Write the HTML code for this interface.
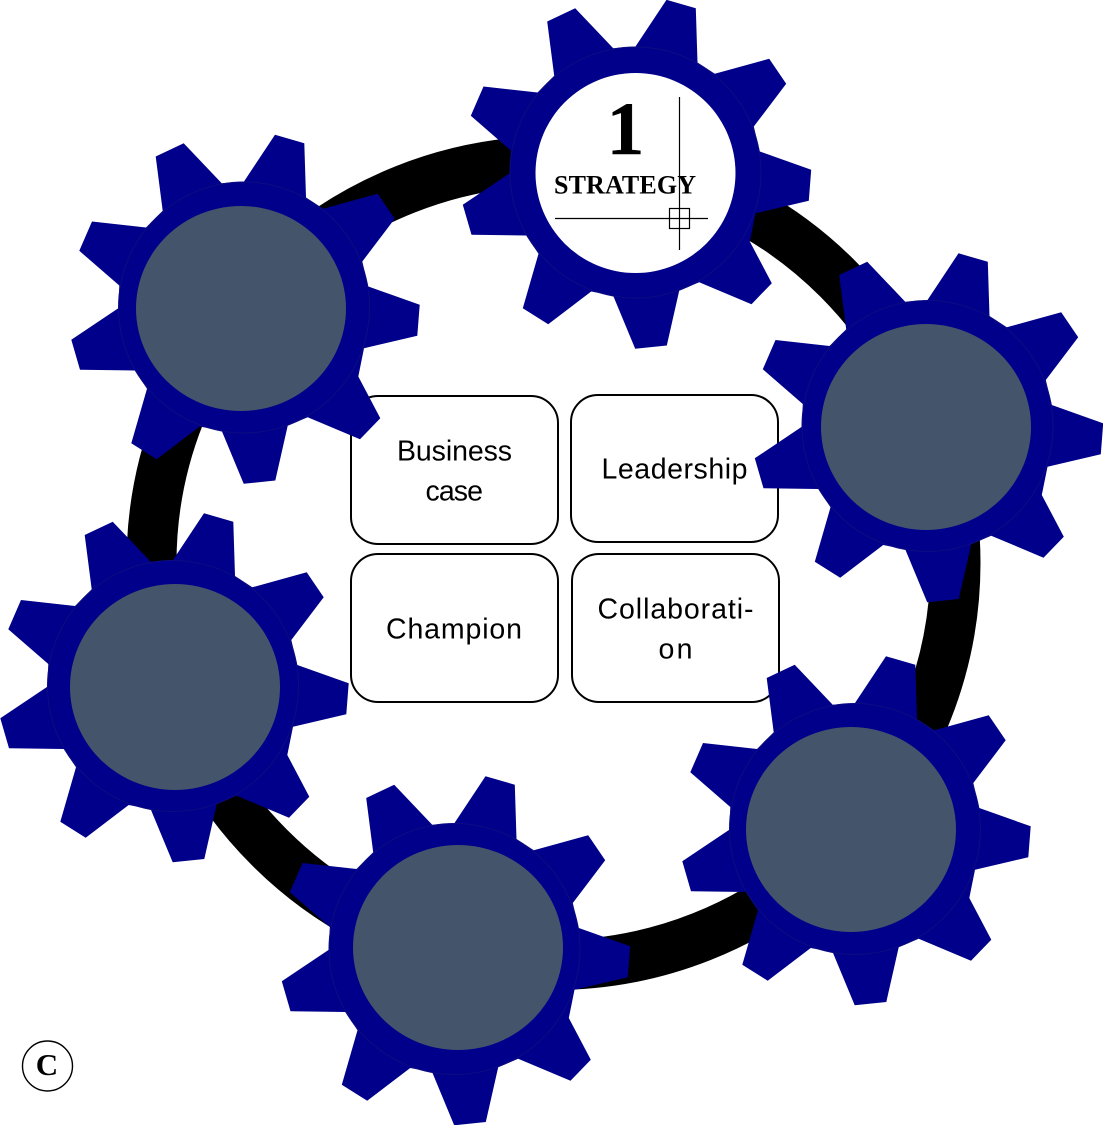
<!DOCTYPE html>
<html>
<head>
<meta charset="utf-8">
<style>
html,body{margin:0;padding:0;background:#fff;width:1103px;height:1125px;overflow:hidden}
svg{display:block}
.s{font-family:"Liberation Sans",sans-serif;font-size:28.5px;fill:#000;text-anchor:start}
.t{font-family:"Liberation Serif",serif;font-weight:bold;fill:#000}
</style>
</head>
<body>
<svg width="1103" height="1125" viewBox="0 0 1103 1125" xmlns="http://www.w3.org/2000/svg">
<defs>
<g id="gear">
<polygon fill="#00008b" points="-81.3,-96.7 -88.3,-151 -60.3,-164.3 -22.3,-124.3 0,-126 31,-172.7 60.3,-164.3 62,-110 79.3,-98.7 133.7,-113.7 150.7,-88.7 118.3,-46 124.3,-21 175.7,-2.7 173.3,28.3 120,40.7 114.3,69 136.3,110.7 116,131.7 63.7,109.7 43.7,118.3 31.3,173 -0.3,176.3 -22.3,123.3 -44.3,119 -87.3,151.7 -112.7,135.7 -97,81.3 -109.3,63 -164,62.3 -172.7,32.3 -125.7,0.7 -124.7,-22 -164.7,-56.7 -152,-86 -98,-80"/>
<circle r="125.5" fill="#00008b" stroke="#0c0c80" stroke-width="1"/>
</g>
</defs>

<circle cx="553.5" cy="563" r="402" fill="none" stroke="#000" stroke-width="50"/>

<g fill="#fff" stroke="#000" stroke-width="2">
<rect x="351" y="396" width="207" height="148" rx="27"/>
<rect x="571" y="395" width="207" height="147" rx="27"/>
<rect x="351" y="554" width="207" height="148" rx="27"/>
<rect x="572" y="554" width="207" height="148" rx="27"/>
</g>
<text class="s" x="397" y="460.5" textLength="115" lengthAdjust="spacing">Business</text>
<text class="s" x="425.5" y="500.5" textLength="57.5" lengthAdjust="spacing">case</text>
<text class="s" x="601.5" y="478.5" textLength="146" lengthAdjust="spacing">Leadership</text>
<text class="s" x="386" y="638.5" textLength="136" lengthAdjust="spacing">Champion</text>
<text class="s" x="597.5" y="618.5" textLength="156" lengthAdjust="spacing">Collaborati-</text>
<text class="s" x="658.5" y="658.5" textLength="34" lengthAdjust="spacing">on</text>

<use href="#gear" x="635.5" y="172.5"/>
<use href="#gear" x="244" y="307.5"/>
<use href="#gear" x="927.5" y="426"/>
<use href="#gear" x="173" y="686"/>
<use href="#gear" x="855" y="829"/>
<use href="#gear" x="454.5" y="949"/>

<ellipse cx="635.5" cy="173" rx="100" ry="100" fill="#fff"/>
<ellipse cx="241" cy="308.5" rx="105" ry="102.5" fill="#44546a"/>
<ellipse cx="926" cy="427" rx="105" ry="103" fill="#44546a"/>
<ellipse cx="175" cy="687" rx="105" ry="103" fill="#44546a"/>
<ellipse cx="851" cy="829.5" rx="105" ry="102.5" fill="#44546a"/>
<ellipse cx="458" cy="947.5" rx="105" ry="102.5" fill="#44546a"/>

<text class="t" x="625.5" y="154" font-size="75" text-anchor="middle" stroke="#000" stroke-width=".5">1</text>
<text class="t" x="554" y="193.5" font-size="26" textLength="142" lengthAdjust="spacing">STRATEGY</text>
<g stroke="#000" stroke-width="1.2" fill="none">
<line x1="679.5" y1="97" x2="679.5" y2="250"/>
<line x1="555" y1="218.5" x2="708" y2="218.5"/>
<rect x="669.5" y="208.5" width="20" height="20"/>
</g>

<circle cx="47.5" cy="1066" r="25" fill="#fff" stroke="#000" stroke-width="1.4"/>
<text class="t" x="47" y="1075" font-size="31" text-anchor="middle">C</text>
</svg>
</body>
</html>
